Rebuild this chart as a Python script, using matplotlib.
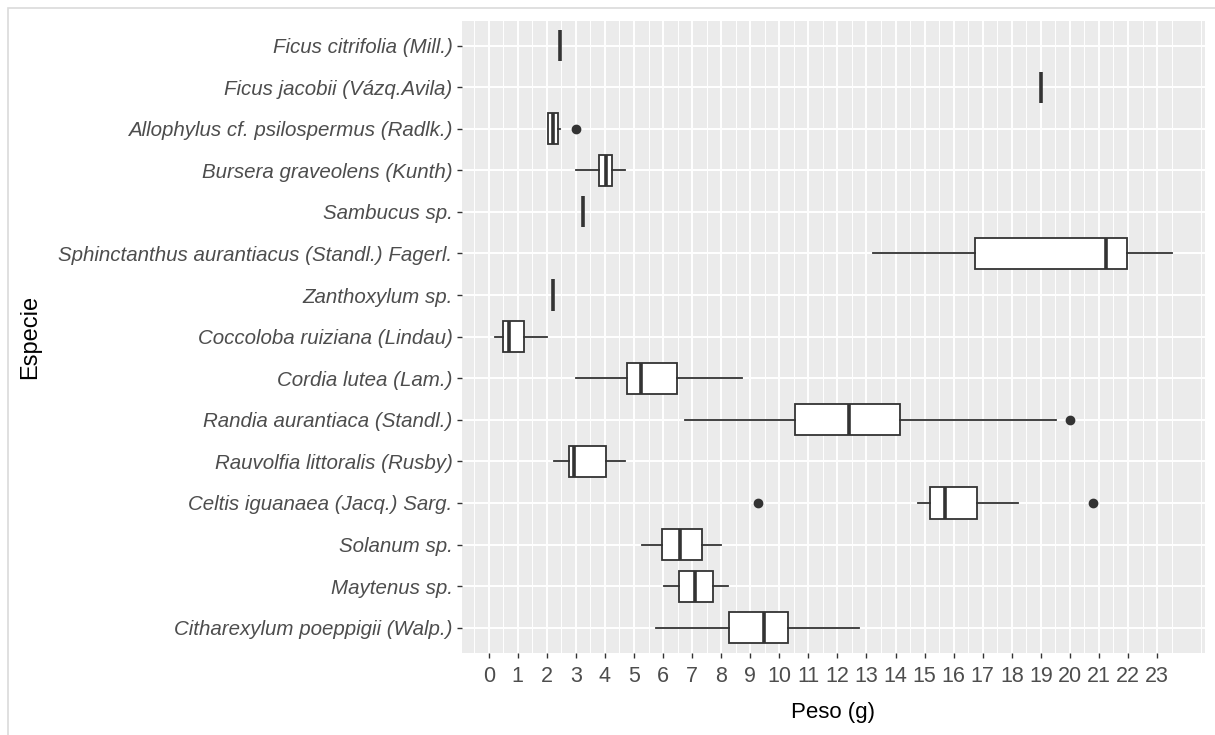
import numpy as np
import matplotlib
matplotlib.use('Agg')
import matplotlib.pyplot as plt
from matplotlib.patches import Rectangle

# species, top to bottom as shown
especies = [
    'Ficus citrifolia (Mill.)',
    'Ficus jacobii (Vázq.Avila)',
    'Allophylus cf. psilospermus (Radlk.)',
    'Bursera graveolens (Kunth)',
    'Sambucus sp.',
    'Sphinctanthus aurantiacus (Standl.) Fagerl.',
    'Zanthoxylum sp.',
    'Coccoloba ruiziana (Lindau)',
    'Cordia lutea (Lam.)',
    'Randia aurantiaca (Standl.)',
    'Rauvolfia littoralis (Rusby)',
    'Celtis iguanaea (Jacq.) Sarg.',
    'Solanum sp.',
    'Maytenus sp.',
    'Citharexylum poeppigii (Walp.)',
]
whislo = [2.47, 19.0, 2.03, 2.99, 3.24, 13.24, 2.22, 0.23, 3.01, 6.76, 2.24, 14.79, 5.26, 6.03, 5.77]
q1     = [2.47, 19.0, 2.03, 3.79, 3.24, 16.72, 2.22, 0.49, 4.75, 10.55, 2.76, 15.17, 5.98, 6.55, 8.28]
med    = [2.47, 19.0, 2.22, 4.02, 3.24, 21.26, 2.22, 0.71, 5.23, 12.39, 2.95, 15.71, 6.59, 7.10, 9.48]
q3     = [2.47, 19.0, 2.38, 4.25, 3.24, 21.95, 2.22, 1.23, 6.49, 14.16, 4.05, 16.80, 7.33, 7.72, 10.29]
whishi = [2.47, 19.0, 2.45, 4.69, 3.24, 23.50, 2.22, 2.01, 8.70, 19.52, 4.69, 18.22, 7.99, 8.23, 12.76]
outliers = [[], [], [2.99], [], [], [], [], [], [], [20.0], [], [9.25, 20.78], [], [], []]

n = len(especies)
stats = []
for i in range(n):
    stats.append({'whislo': whislo[i], 'q1': q1[i], 'med': med[i], 'q3': q3[i],
                  'whishi': whishi[i], 'fliers': outliers[i], 'label': especies[i]})
positions = list(range(n, 0, -1))

fig = plt.figure(figsize=(12.15, 7.35), dpi=100)
# light frame around the screenshot
fig.patches.append(Rectangle((8 / 1215, -0.01), 1.02, 1 - 8 / 735 + 0.01,
                             transform=fig.transFigure, fill=False,
                             edgecolor='#DADADA', linewidth=1.2))

ax = fig.add_axes([0.380, 0.112, 0.612, 0.860])
ax.set_facecolor('#EBEBEB')

edge = '#333333'
ax.bxp(stats, positions=positions, orientation='horizontal', widths=0.75,
       showcaps=False, patch_artist=True,
       boxprops=dict(facecolor='white', edgecolor=edge, linewidth=1.3),
       whiskerprops=dict(color=edge, linewidth=1.3),
       medianprops=dict(color=edge, linewidth=2.6, solid_capstyle='butt'),
       flierprops=dict(marker='o', markerfacecolor=edge, markeredgecolor=edge, markersize=6),
       zorder=3)

ax.set_xlim(-0.93, 24.66)
ax.set_ylim(0.4, n + 0.6)
ax.set_xticks(np.arange(0, 24))
ax.set_xticks(np.arange(-0.5, 24.6, 1), minor=True)
ax.set_yticks(positions)
ax.set_yticklabels(especies, fontstyle='italic')
ax.grid(which='major', color='white', linewidth=1.4, zorder=0)
ax.grid(which='minor', axis='x', color='white', linewidth=0.7, zorder=0)
ax.set_axisbelow(True)
for s in ax.spines.values():
    s.set_visible(False)

ax.tick_params(axis='both', which='major', length=3.6, width=1, color='#333333',
               labelcolor='#4D4D4D')
ax.tick_params(axis='y', labelsize=14.8, pad=3)
ax.tick_params(axis='x', labelsize=15.5, pad=6)
ax.tick_params(axis='x', which='minor', length=0)
for lab in ax.get_xticklabels() + ax.get_yticklabels():
    lab.set_family('Liberation Sans')

ax.set_xlabel('Peso (g)', fontsize=16, family='Liberation Sans', va='center')
ax.xaxis.set_label_coords(0.5, -0.095)
ax.set_ylabel('Especie', fontsize=17, family='Liberation Sans', va='center')
ax.yaxis.set_label_coords(-0.58, 0.5)

fig.savefig('out.png', dpi=100, facecolor='white')
